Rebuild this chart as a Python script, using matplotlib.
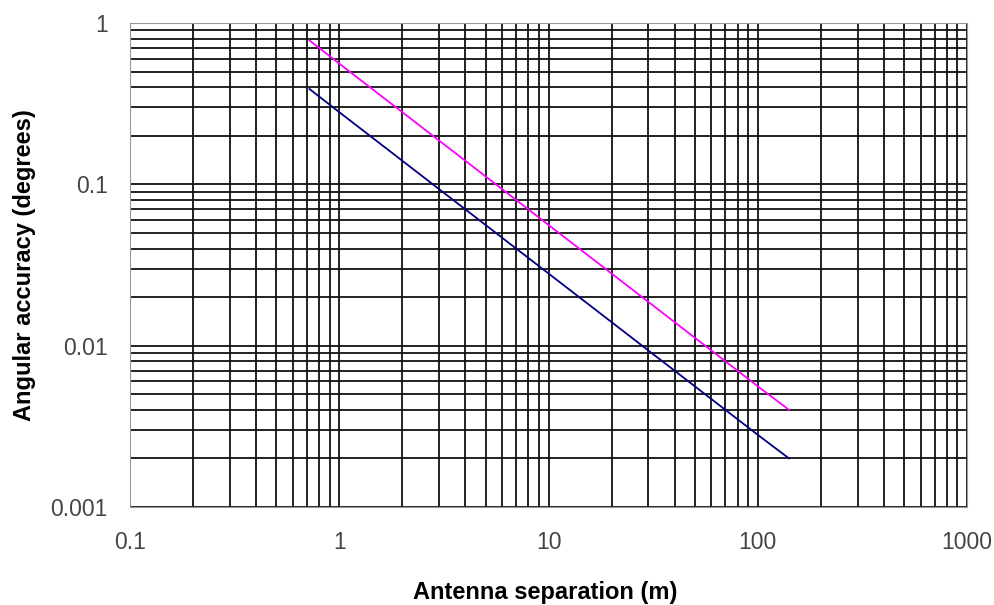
import matplotlib
matplotlib.use('Agg')
import matplotlib.pyplot as plt
from matplotlib.ticker import LogLocator, FixedLocator, NullFormatter

plt.rcParams['font.family'] = ['Liberation Sans', 'DejaVu Sans']

# values
separation = [0.72, 1, 2, 5, 10, 20, 50, 100, 141]
accuracy_upper = [0.78, 0.56, 0.28, 0.112, 0.056, 0.028, 0.0112, 0.0056, 0.004]
accuracy_lower = [0.39, 0.28, 0.14, 0.056, 0.028, 0.014, 0.0056, 0.0028, 0.002]
x_ticks = [0.1, 1, 10, 100, 1000]
x_labels = ['0.1', '1', '10', '100', '1000']
y_ticks = [0.001, 0.01, 0.1, 1]
y_labels = ['0.001', '0.01', '0.1', '1']

fig = plt.figure(figsize=(9.95, 6.05), dpi=100)
ax = fig.add_axes([0.1307, 0.162, 0.8412, 0.800])

ax.plot(separation, accuracy_upper, color='#ff00ff', lw=1.3, zorder=3)
ax.plot(separation, accuracy_lower, color='#000080', lw=1.3, zorder=3)

ax.set_xscale('log')
ax.set_yscale('log')
ax.set_xlim(0.1, 1000)
ax.set_ylim(0.001, 1)

ax.xaxis.set_major_locator(FixedLocator(x_ticks))
ax.yaxis.set_major_locator(FixedLocator(y_ticks))
ax.set_xticklabels(x_labels)
ax.set_yticklabels(y_labels)
ax.xaxis.set_minor_locator(LogLocator(base=10, subs=range(2, 10), numticks=20))
ax.yaxis.set_minor_locator(LogLocator(base=10, subs=range(2, 10), numticks=20))
ax.xaxis.set_minor_formatter(NullFormatter())
ax.yaxis.set_minor_formatter(NullFormatter())

ax.grid(True, which='both', color='#111111', lw=1.3)
ax.tick_params(which='both', length=0, labelsize=16.5, labelcolor='#444444')
ax.tick_params(axis='x', pad=17)
ax.tick_params(axis='y', pad=16)
for s in ax.spines.values():
    s.set_color('#999999')

fig.text(0.548, 1 - 592 / 605, 'Antenna separation (m)', fontsize=17,
         fontweight='bold', ha='center', va='center')
fig.text(25 / 995, 1 - 265 / 605, 'Angular accuracy (degrees)', fontsize=17,
         fontweight='bold', ha='center', va='center', rotation=90)

fig.savefig('out.png', dpi=100)
